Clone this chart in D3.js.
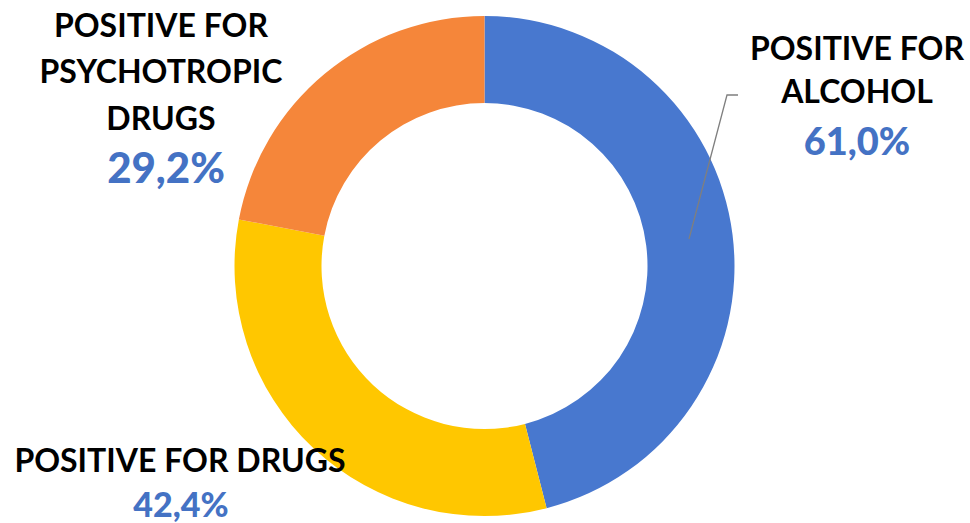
<!DOCTYPE html>
<html><head><meta charset="utf-8">
<script src="https://cdn.jsdelivr.net/npm/d3@7"></script>
<style>html,body{margin:0;padding:0;background:#fff;}svg{display:block;}</style>
</head><body>
<svg id="c" width="970" height="523"></svg>
<script>
const categories = ["POSITIVE FOR ALCOHOL", "POSITIVE FOR DRUGS", "POSITIVE FOR PSYCHOTROPIC DRUGS"];
const values = [61.0, 42.4, 29.2];
const valueLabels = ["61,0%", "42,4%", "29,2%"];
const colors = ["#4878CF", "#FFC700", "#F5863A"];

const svg = d3.select("#c");
const cx = 484.5, cy = 266, rOuter = 250, rInner = 163;
const g = svg.append("g").attr("transform", `translate(${cx},${cy})`);
const pie = d3.pie().sort(null).value(d => d)(values);
const arc = d3.arc().innerRadius(rInner).outerRadius(rOuter);
g.selectAll("path").data(pie).join("path")
  .attr("d", arc).attr("fill", (d, i) => colors[i]);

// leader line for alcohol label
svg.append("polyline")
  .attr("points", "689,239 727,95 738,95")
  .attr("fill", "none").attr("stroke", "#7f7f7f").attr("stroke-width", 1.3);

const font = "Lato, 'Open Sans', sans-serif";
const labels = [
  {lines: ["POSITIVE FOR", "ALCOHOL"], x: 857, ys: [60, 103], vy: 155, vs: 38, vx: 857, vi: 0},
  {lines: ["POSITIVE FOR DRUGS"], x: 180, ys: [472], vy: 517, vs: 34, vx: 181, vi: 1},
  {lines: ["POSITIVE FOR", "PSYCHOTROPIC", "DRUGS"], x: 161, ys: [37, 83, 130], vy: 183, vs: 42, vx: 166, vi: 2}
];
labels.forEach(l => {
  l.lines.forEach((t, j) => {
    svg.append("text").attr("x", l.x).attr("y", l.ys[j]).attr("text-anchor", "middle")
      .attr("font-family", font).attr("font-weight", "bold").attr("font-size", 32)
      .attr("fill", "#000").text(t);
  });
  svg.append("text").attr("x", l.vx).attr("y", l.vy).attr("text-anchor", "middle")
    .attr("font-family", font).attr("font-weight", "900").attr("font-size", l.vs)
    .attr("fill", "#4472C4").text(valueLabels[l.vi]);
});
</script>
</body></html>
